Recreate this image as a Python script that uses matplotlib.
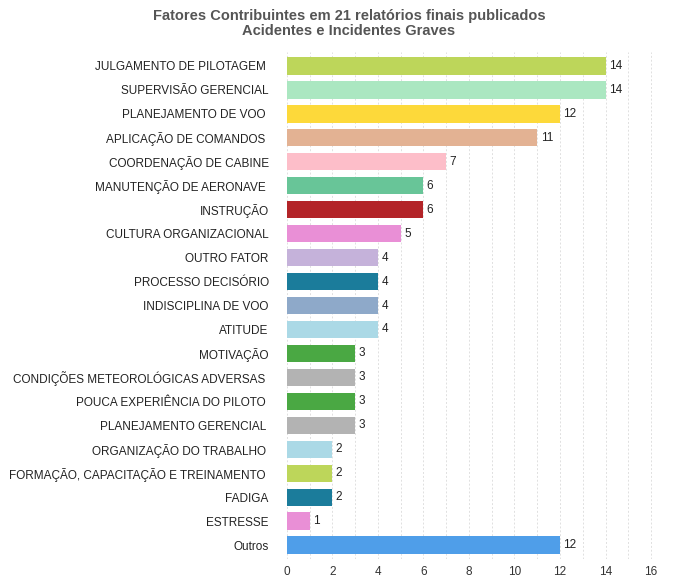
import matplotlib.pyplot as plt
from matplotlib.ticker import MultipleLocator

plt.rcParams['font.family'] = ['Liberation Sans', 'DejaVu Sans']

fatores = ['JULGAMENTO DE PILOTAGEM ', 'SUPERVISÃO GERENCIAL', 'PLANEJAMENTO DE VOO ',
           'APLICAÇÃO DE COMANDOS ', 'COORDENAÇÃO DE CABINE', 'MANUTENÇÃO DE AERONAVE ',
           'INSTRUÇÃO', 'CULTURA ORGANIZACIONAL', 'OUTRO FATOR', 'PROCESSO DECISÓRIO',
           'INDISCIPLINA DE VOO', 'ATITUDE', 'MOTIVAÇÃO', 'CONDIÇÕES METEOROLÓGICAS ADVERSAS ',
           'POUCA EXPERIÊNCIA DO PILOTO ', 'PLANEJAMENTO GERENCIAL ', 'ORGANIZAÇÃO DO TRABALHO ',
           'FORMAÇÃO, CAPACITAÇÃO E TREINAMENTO ', 'FADIGA', 'ESTRESSE', 'Outros']
valores = [14, 14, 12, 11, 7, 6, 6, 5, 4, 4, 4, 4, 3, 3, 3, 3, 2, 2, 2, 1, 12]
cores = ['#bdd65a', '#abe7c1', '#fdd93a', '#e3b293', '#fdbec9', '#68c598', '#b32428',
         '#e98fd6', '#c5b2da', '#1b7c9b', '#8ea9c9', '#abd9e6', '#4aa843', '#b3b3b3',
         '#4aa843', '#b3b3b3', '#abd9e6', '#bdd65a', '#1b7c9b', '#e98fd6', '#4f9ee9']

fig = plt.figure(figsize=(6.98, 5.8), dpi=100)
ax = fig.add_axes([0.411, 0.0355, 0.538, 0.8755])

pos = list(range(len(fatores)))
ax.barh(pos, valores, height=0.72, color=cores, zorder=2)
for p, v in zip(pos, valores):
    ax.text(v + 0.15, p, str(v), va='center', ha='left', fontsize=8.5, color='#222222')

ax.set_ylim(len(fatores) - 0.4, -0.6)
ax.set_xlim(0, 16.5)
ax.set_yticks(pos)
ax.set_yticklabels(fatores, fontsize=8.5, color='#222222')
ax.xaxis.set_major_locator(MultipleLocator(2))
ax.xaxis.set_minor_locator(MultipleLocator(1))
ax.tick_params(axis='x', labelsize=8.5, labelcolor='#333333', length=0, pad=5)
ax.tick_params(axis='y', length=0, pad=13)
ax.tick_params(which='minor', length=0)
ax.grid(axis='x', which='both', color='#e0e0e0', linestyle=(0, (2, 2)), linewidth=0.7, zorder=0)
for s in ax.spines.values():
    s.set_visible(False)

fig.text(0.5, 0.985, 'Fatores Contribuintes em 21 relatórios finais publicados\nAcidentes e Incidentes Graves',
         ha='center', va='top', fontsize=10.5, fontweight='bold', color='#555555', linespacing=1.15)

fig.savefig('out.png', dpi=100)
